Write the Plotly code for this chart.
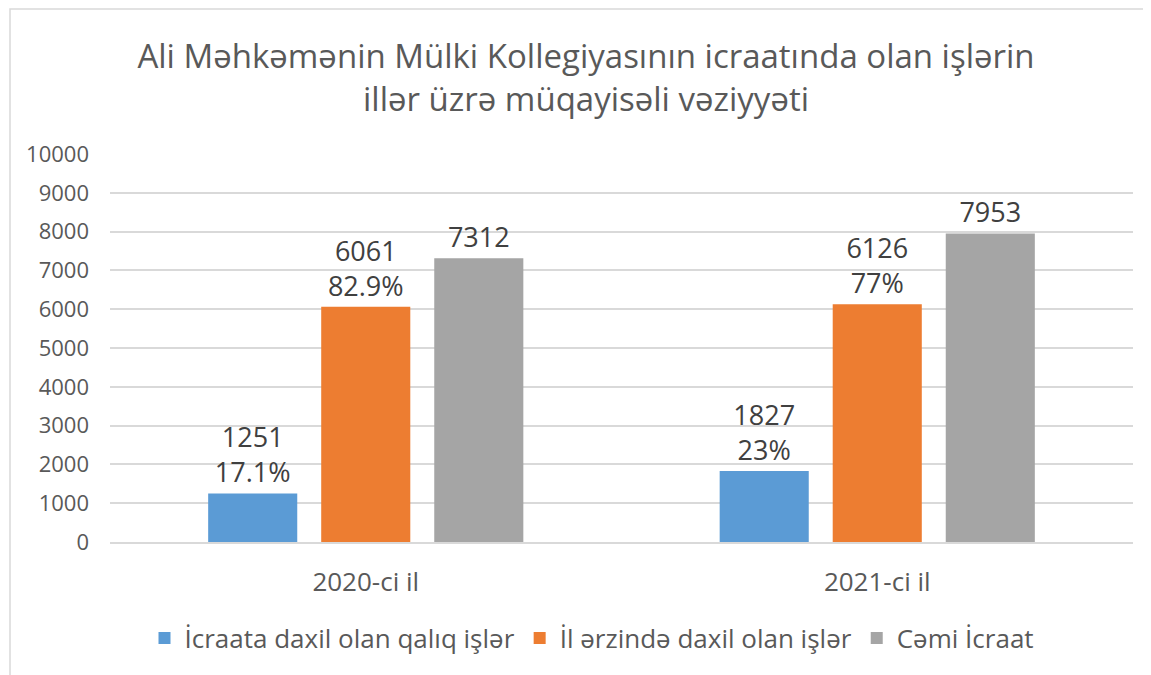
import plotly.graph_objects as go

categories = ["2020-ci il", "2021-ci il"]
series_names = ["İcraata daxil olan qalıq işlər", "İl ərzində daxil olan işlər", "Cəmi İcraat"]
qaliq = [1251, 1827]
daxil = [6061, 6126]
cemi = [7312, 7953]
qaliq_pct = ["17.1%", "23%"]
daxil_pct = ["82.9%", "77%"]
colors = ["#5B9BD5", "#ED7D31", "#A5A5A5"]

FONT = "Open Sans"
TXT = "#404040"
LBL = "#595959"

fig = go.Figure()
fig.add_bar(name=series_names[0], x=categories, y=qaliq, marker_color=colors[0],
            text=[f"{v}<br>{p}" for v, p in zip(qaliq, qaliq_pct)])
fig.add_bar(name=series_names[1], x=categories, y=daxil, marker_color=colors[1],
            text=[f"{v}<br>{p}" for v, p in zip(daxil, daxil_pct)])
fig.add_bar(name=series_names[2], x=categories, y=cemi, marker_color=colors[2],
            text=[str(v) for v in cemi])
fig.update_traces(textposition="outside", cliponaxis=False, marker_line_width=0,
                  textfont=dict(family=FONT, size=27, color=TXT))

# the page body adds an 8px offset; figure coordinates = reference - 8
OFF = 8
W, H = 1151 - OFF, 675 - OFF
L, R, T, B = 110 - OFF, 18, 154 - OFF, 675 - 542
pw, ph = W - L - R, H - T - B

def px(x):
    return (x - OFF - L) / pw

def py(y):
    return (H - B - (y - OFF)) / ph

fig.update_layout(
    width=W, height=H,
    margin=dict(l=L, r=R, t=T, b=B),
    paper_bgcolor="white", plot_bgcolor="white",
    barmode="group", bargap=0.337, bargroupgap=0.212,
    font=dict(family=FONT, color=LBL),
    title=dict(text="Ali Məhkəmənin Mülki Kollegiyasının icraatında olan işlərin<br>illər üzrə müqayisəli vəziyyəti",
               x=(586 - OFF) / W, xref="container", xanchor="center",
               y=1 - (68 - OFF) / H, yref="container", yanchor="middle",
               font=dict(family=FONT, size=33, color=LBL)),
    showlegend=True,
    legend=dict(orientation="h", x=px(592), xanchor="center", y=py(638), yanchor="middle",
                font=dict(family=FONT, size=26, color=LBL), itemsizing="constant",
                traceorder="normal", itemwidth=30),
    shapes=[dict(type="rect", xref="paper", yref="paper", x0=px(10), x1=px(1170), y0=py(700), y1=py(9),
                 line=dict(color="#D9D9D9", width=1.5), fillcolor="rgba(0,0,0,0)", layer="below")],
)
fig.update_yaxes(range=[0, 10000], dtick=1000, tickformat="d", showgrid=True, gridcolor="#D9D9D9", gridwidth=1.5,
                 zeroline=False, showline=False, ticks="", ticklabelstandoff=20,
                 tickfont=dict(family=FONT, size=22, color=LBL), fixedrange=True)
fig.update_xaxes(showgrid=False, showline=True, linecolor="#D9D9D9", linewidth=1.5, ticks="",
                 ticklabelstandoff=16, tickfont=dict(family=FONT, size=26, color=LBL))

fig.write_html("out.html")
